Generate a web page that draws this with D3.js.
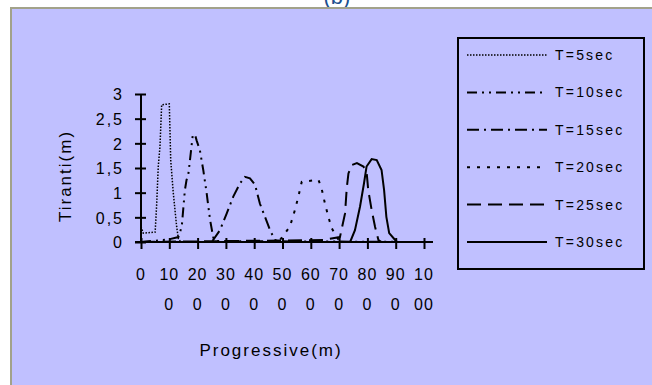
<!DOCTYPE html>
<html>
<head>
<meta charset="utf-8">
<script src="https://cdn.jsdelivr.net/npm/d3@7"></script>
<style>
  body { margin: 0; background: #ffffff; }
  text { font-family: "Liberation Sans", Arial, sans-serif; fill: #000; }
</style>
</head>
<body>
<div id="chart"></div>
<script>
// series names + values (progressive in m, tirante in m)
var seriesNames = ["T=5sec", "T=10sec", "T=15sec", "T=20sec", "T=25sec", "T=30sec"];

var t5 = [[0,0.31],[8,0.18],[50,0.2],[55,0.72],[61,1.53],[67,1.93],[73,2.78],[100,2.8],[105,1.66],[114,1.0],[126,0.31],[132,0.07],[140,0],[1000,0]];
var t10 = [[0,0],[96,0.05],[132,0.1],[144,0.31],[155,1.05],[161,1.26],[167,1.36],[173,1.66],[183,2.17],[191,2.17],[197,2.05],[208,1.86],[220,1.46],[232,0.99],[244,0.45],[255,0.1],[261,0.02],[1000,0]];
var t15 = [[0,0],[250,0],[279,0.24],[303,0.58],[326,0.92],[350,1.19],[367,1.32],[385,1.29],[403,1.16],[420,0.78],[438,0.51],[456,0.24],[473,0.04],[491,0],[1000,0]];
var t20 = [[0,0],[480,0],[491,0.04],[526,0.31],[544,0.65],[556,0.92],[568,1.22],[627,1.26],[638,1.09],[650,0.78],[662,0.51],[674,0.28],[691,0.11],[703,0],[1000,0]];
var t25 = [[0,0],[644,0.04],[703,0.1],[721,0.58],[727,1.09],[733,1.39],[745,1.56],[763,1.6],[786,1.53],[797,1.43],[803,1.05],[815,0.65],[827,0.31],[839,0.04],[850,0],[1000,0]];
var t30 = [[0,0],[739,0],[756,0.24],[774,0.72],[788,1.19],[797,1.53],[815,1.68],[833,1.66],[850,1.46],[859,1.05],[867,0.51],[877,0.18],[898,0.04],[905,0],[1000,0]];
var seriesData = [t5, t10, t15, t20, t25, t30];

var xTicks = [0,100,200,300,400,500,600,700,800,900,1000];
var yTicks = [0,0.5,1,1.5,2,2.5,3];
var yTickLabels = ["0","0,5","1","1,5","2","2,5","3"];

var dashes = ["1.5,1.5", "10,5,2,5,2,5", "12,5,2,5", "3,7", "14,7", null];
var widths = [1.5, 2, 2, 2, 2, 2];

var W = 652, H = 385;

var svg = d3.select("#chart").append("svg")
  .attr("width", W)
  .attr("height", H);

// title, mostly cut off at the top (as in the original)
svg.append("text")
  .attr("x", 337)
  .attr("y", 4)
  .attr("text-anchor", "middle")
  .style("font-size", "22px")
  .style("fill", "#1d4f8f")
  .text("(b)");

// panel
svg.append("rect")
  .attr("x", 11).attr("y", 8)
  .attr("width", W).attr("height", H)
  .attr("fill", "#c0c0ff")
  .attr("stroke", "#a2a28a")
  .attr("stroke-width", 2);

var xscale = d3.scaleLinear().domain([0, 1000]).range([141, 424]);
var yscale = d3.scaleLinear().domain([0, 3]).range([242, 94]);

// y axis (ticks cross the line)
var yg = svg.append("g").attr("transform", "translate(" + xscale(0) + ",0)");
yg.call(d3.axisLeft(yscale).tickValues(yTicks).tickSize(6).tickPadding(11)
  .tickFormat(function(d, i) { return yTickLabels[i]; }));
yg.append("g").call(d3.axisLeft(yscale).tickValues(yTicks).tickSize(-5).tickFormat(""));
yg.selectAll(".domain").remove();
yg.append("line")
  .attr("y1", yscale(3)).attr("y2", yscale(0))
  .attr("stroke", "#000").attr("stroke-width", 2);
yg.selectAll(".tick line").attr("stroke", "#000").attr("stroke-width", 2);
yg.selectAll(".tick text")
  .style("font-size", "16px")
  .style("letter-spacing", "2px")
  .attr("dy", "0.36em");

// x axis
var xg = svg.append("g").attr("transform", "translate(0," + yscale(0) + ")");
xg.call(d3.axisBottom(xscale).tickValues(xTicks).tickSize(7).tickFormat(""));
xg.append("g").call(d3.axisBottom(xscale).tickValues(xTicks).tickSize(-4).tickFormat(""));
xg.selectAll(".domain").remove();
xg.append("line")
  .attr("x1", xscale(0) - 6).attr("x2", xscale(1000) + 9)
  .attr("stroke", "#000").attr("stroke-width", 2);
xg.selectAll(".tick line").attr("stroke", "#000").attr("stroke-width", 2);

// wrapped tick labels (two chars per line)
var xl = svg.append("g").selectAll("text")
  .data(xTicks)
  .enter()
  .append("text")
  .attr("text-anchor", "middle")
  .style("font-size", "16px")
  .style("letter-spacing", "1px");
xl.append("tspan")
  .attr("x", function(d) { return xscale(d); })
  .attr("y", 280)
  .text(function(d) { return String(d).slice(0, 2); });
xl.append("tspan")
  .attr("x", function(d) { return xscale(d); })
  .attr("y", 310)
  .text(function(d) { return String(d).slice(2); });

// axis titles
svg.append("text")
  .attr("x", 271).attr("y", 356)
  .attr("text-anchor", "middle")
  .style("font-size", "17px")
  .style("letter-spacing", "2px")
  .text("Progressive(m)");

svg.append("text")
  .attr("transform", "translate(71,176) rotate(-90)")
  .attr("text-anchor", "middle")
  .style("font-size", "17px")
  .style("letter-spacing", "2px")
  .text("Tiranti(m)");

// curves
var line = d3.line()
  .x(function(d) { return xscale(d[0]); })
  .y(function(d) { return yscale(d[1]); });

svg.append("g").selectAll("path")
  .data(seriesData)
  .enter()
  .append("path")
  .attr("d", line)
  .attr("fill", "none")
  .attr("stroke", "#000")
  .attr("stroke-width", function(d, i) { return widths[i]; })
  .attr("stroke-dasharray", function(d, i) { return dashes[i]; });

// legend
var legend = svg.append("g");
legend.append("rect")
  .attr("x", 458).attr("y", 38)
  .attr("width", 186).attr("height", 231)
  .attr("fill", "none")
  .attr("stroke", "#000")
  .attr("stroke-width", 2);

var rows = legend.selectAll("g.row")
  .data(seriesNames)
  .enter()
  .append("g")
  .attr("class", "row")
  .attr("transform", function(d, i) { return "translate(0," + (55 + i * 37.4) + ")"; });
rows.append("line")
  .attr("x1", 467).attr("x2", 547)
  .attr("stroke", "#000")
  .attr("stroke-width", function(d, i) { return widths[i]; })
  .attr("stroke-dasharray", function(d, i) { return dashes[i]; });
rows.append("text")
  .attr("x", 555).attr("y", 5)
  .style("font-size", "14px")
  .style("letter-spacing", "2.2px")
  .text(function(d) { return d; });
</script>
</body>
</html>
